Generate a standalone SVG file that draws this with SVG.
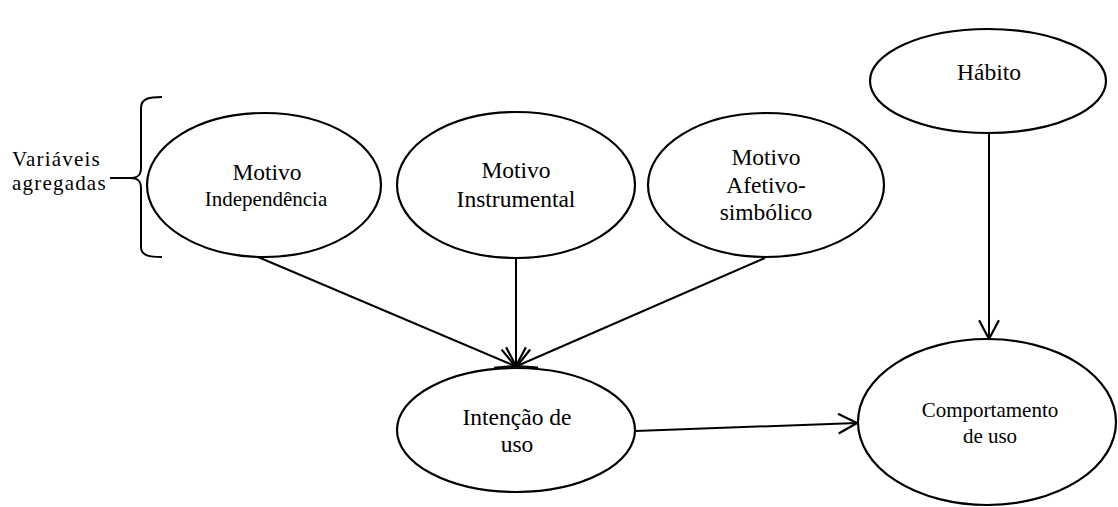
<svg xmlns="http://www.w3.org/2000/svg" width="1118" height="507" viewBox="0 0 1118 507" font-family="Liberation Serif, Times New Roman, DejaVu Serif, serif">
<style>
.n{fill:#fff;stroke:#000;stroke-width:2.2}
.t{font-family:'Liberation Serif','Times New Roman','DejaVu Serif',serif;font-size:23.5px;fill:#000;text-anchor:middle}
.l{text-anchor:start;font-size:21px;letter-spacing:1.2px}
.s{font-size:21px}
.c{fill:none;stroke:#000;stroke-width:2}
</style>
<defs>
<marker id="a" markerUnits="userSpaceOnUse" markerWidth="22" markerHeight="22" refX="18" refY="10" orient="auto" viewBox="0 0 20 20">
<path d="M1,1 L18,10 L1,19" fill="none" stroke="#000" stroke-width="2"/>
</marker>
</defs>
<g id="connectors">
<line class="c" x1="258" y1="257" x2="515" y2="366" marker-end="url(#a)"/>
<line class="c" x1="516" y1="258" x2="516" y2="366" marker-end="url(#a)"/>
<line class="c" x1="765" y1="258" x2="517" y2="366" marker-end="url(#a)"/>
<line class="c" x1="989" y1="133" x2="989" y2="339" marker-end="url(#a)"/>
<line class="c" x1="635" y1="431" x2="857" y2="423" marker-end="url(#a)"/>
</g>
<g id="brace">
<path class="c" d="M162,97 C150,97 141,98 141,108 L141,168 C141,175 138,178 130,178 C138,178 141,181 141,188 L141,247 C141,256 150,257 162,257"/>
<line class="c" x1="110" y1="178" x2="131" y2="178"/>
<text class="t l" x="12" y="166">Variáveis</text>
<text class="t l" x="12" y="190">agregadas</text>
</g>
<g id="independencia">
<ellipse class="n" cx="264" cy="185" rx="117" ry="72"/>
<text class="t" x="267" y="180">Motivo</text>
<text class="t s" x="266" y="206">Independência</text>
</g>
<g id="instrumental">
<ellipse class="n" cx="516" cy="185" rx="119" ry="73"/>
<text class="t" x="516" y="178">Motivo</text>
<text class="t" x="516" y="207">Instrumental</text>
</g>
<g id="afetivo">
<ellipse class="n" cx="766" cy="185" rx="118" ry="72"/>
<text class="t" x="766" y="165">Motivo</text>
<text class="t" x="766" y="193">Afetivo-</text>
<text class="t" x="766" y="220">simbólico</text>
</g>
<g id="habito">
<ellipse class="n" cx="988" cy="81" rx="118" ry="52"/>
<text class="t" x="989" y="80">Hábito</text>
</g>
<g id="intencao">
<ellipse class="n" cx="516" cy="430" rx="119" ry="62"/>
<text class="t" x="517" y="425">Intenção de</text>
<text class="t" x="517" y="452">uso</text>
</g>
<g id="comportamento">
<ellipse class="n" cx="987" cy="422" rx="129" ry="83"/>
<text class="t s" x="990" y="417">Comportamento</text>
<text class="t s" x="990" y="443">de uso</text>
</g>
</svg>
